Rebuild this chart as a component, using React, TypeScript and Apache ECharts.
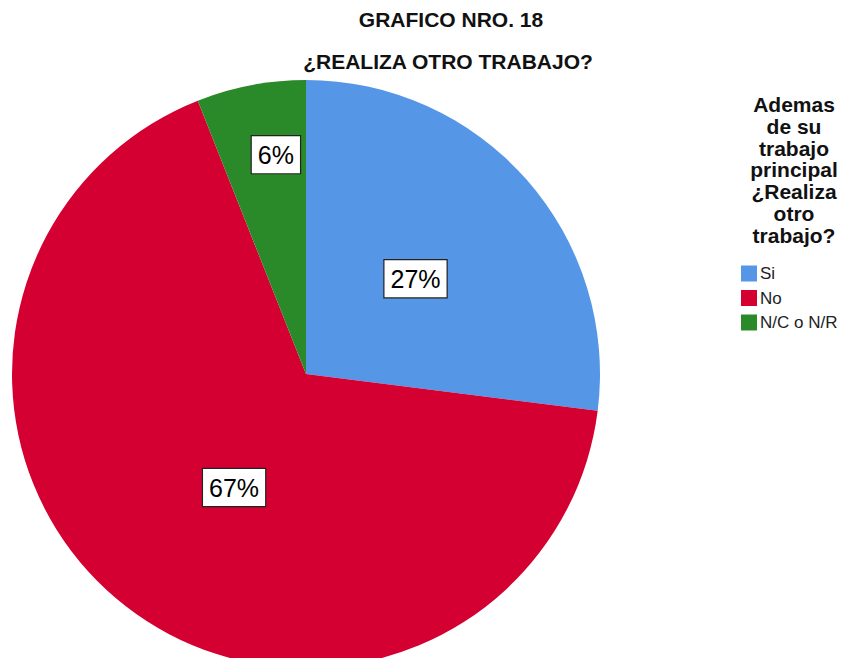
import React, { useEffect, useRef } from "react";
import * as echarts from "echarts";

const categories = ["Si", "No", "N/C o N/R"];
const values = [27, 67, 6];
const colors = ["#5596e6", "#d50032", "#2a8a2a"];
const chartTitle = "GRAFICO NRO. 18";
const chartSubtitle = "¿REALIZA OTRO TRABAJO?";
const legendTitle = "Ademas\nde su\ntrabajo\nprincipal\n¿Realiza\notro\ntrabajo?";
// label nudges (dx, dy) per slice
const labelNudges = [
  [-3, 4],
  [20, -5],
  [-2, -72],
];

export default function App() {
  const ref = useRef<HTMLDivElement>(null);
  useEffect(() => {
    document.body.style.margin = "0";
    const chart = echarts.init(ref.current!, null, { renderer: "svg" });
    chart.setOption({
      animation: false,
      backgroundColor: "#ffffff",
      title: [
        {
          text: chartTitle,
          left: 446,
          top: 4,
          textAlign: "center",
          textStyle: { fontFamily: "Liberation Sans, Arial", fontSize: 21, fontWeight: "bold", color: "#111" },
        },
        {
          text: chartSubtitle,
          left: 443,
          top: 46,
          textAlign: "center",
          textStyle: { fontFamily: "Liberation Sans, Arial", fontSize: 21, fontWeight: "bold", color: "#111" },
        },
        {
          text: legendTitle,
          left: 789,
          top: 89,
          textAlign: "center",
          textStyle: {
            fontFamily: "Liberation Sans, Arial",
            fontSize: 21,
            fontWeight: "bold",
            lineHeight: 21.7,
            color: "#111",
            align: "center",
          },
        },
      ],
      legend: {
        orient: "vertical",
        left: 736,
        top: 260,
        icon: "rect",
        itemWidth: 16,
        itemHeight: 16,
        itemGap: 7.5,
        data: categories,
        textStyle: { fontFamily: "Liberation Sans, Arial", fontSize: 17, color: "#222", padding: [0, 0, 0, -2] },
      },
      color: colors,
      series: [
        {
          type: "pie",
          center: [306, 374],
          radius: 294,
          startAngle: 90,
          clockwise: true,
          silent: true,
          itemStyle: { borderWidth: 0 },
          label: {
            show: true,
            position: "inside",
            formatter: (p: any) => `${p.value}%`,
            fontFamily: "Liberation Sans, Arial",
            fontSize: 25,
            color: "#000",
            backgroundColor: "#fff",
            borderColor: "#222",
            borderWidth: 1.2,
            padding: [7, 6, 5, 6],
          },
          labelLine: { show: false },
          labelLayout: (params: any) => {
            const n = labelNudges[params.dataIndex] || [0, 0];
            return { dx: n[0], dy: n[1] };
          },
          data: categories.map((name, i) => ({ name, value: values[i] })),
        },
      ],
    });
    return () => chart.dispose();
  }, []);
  return <div ref={ref} style={{ width: 845, height: 658 }} />;
}
